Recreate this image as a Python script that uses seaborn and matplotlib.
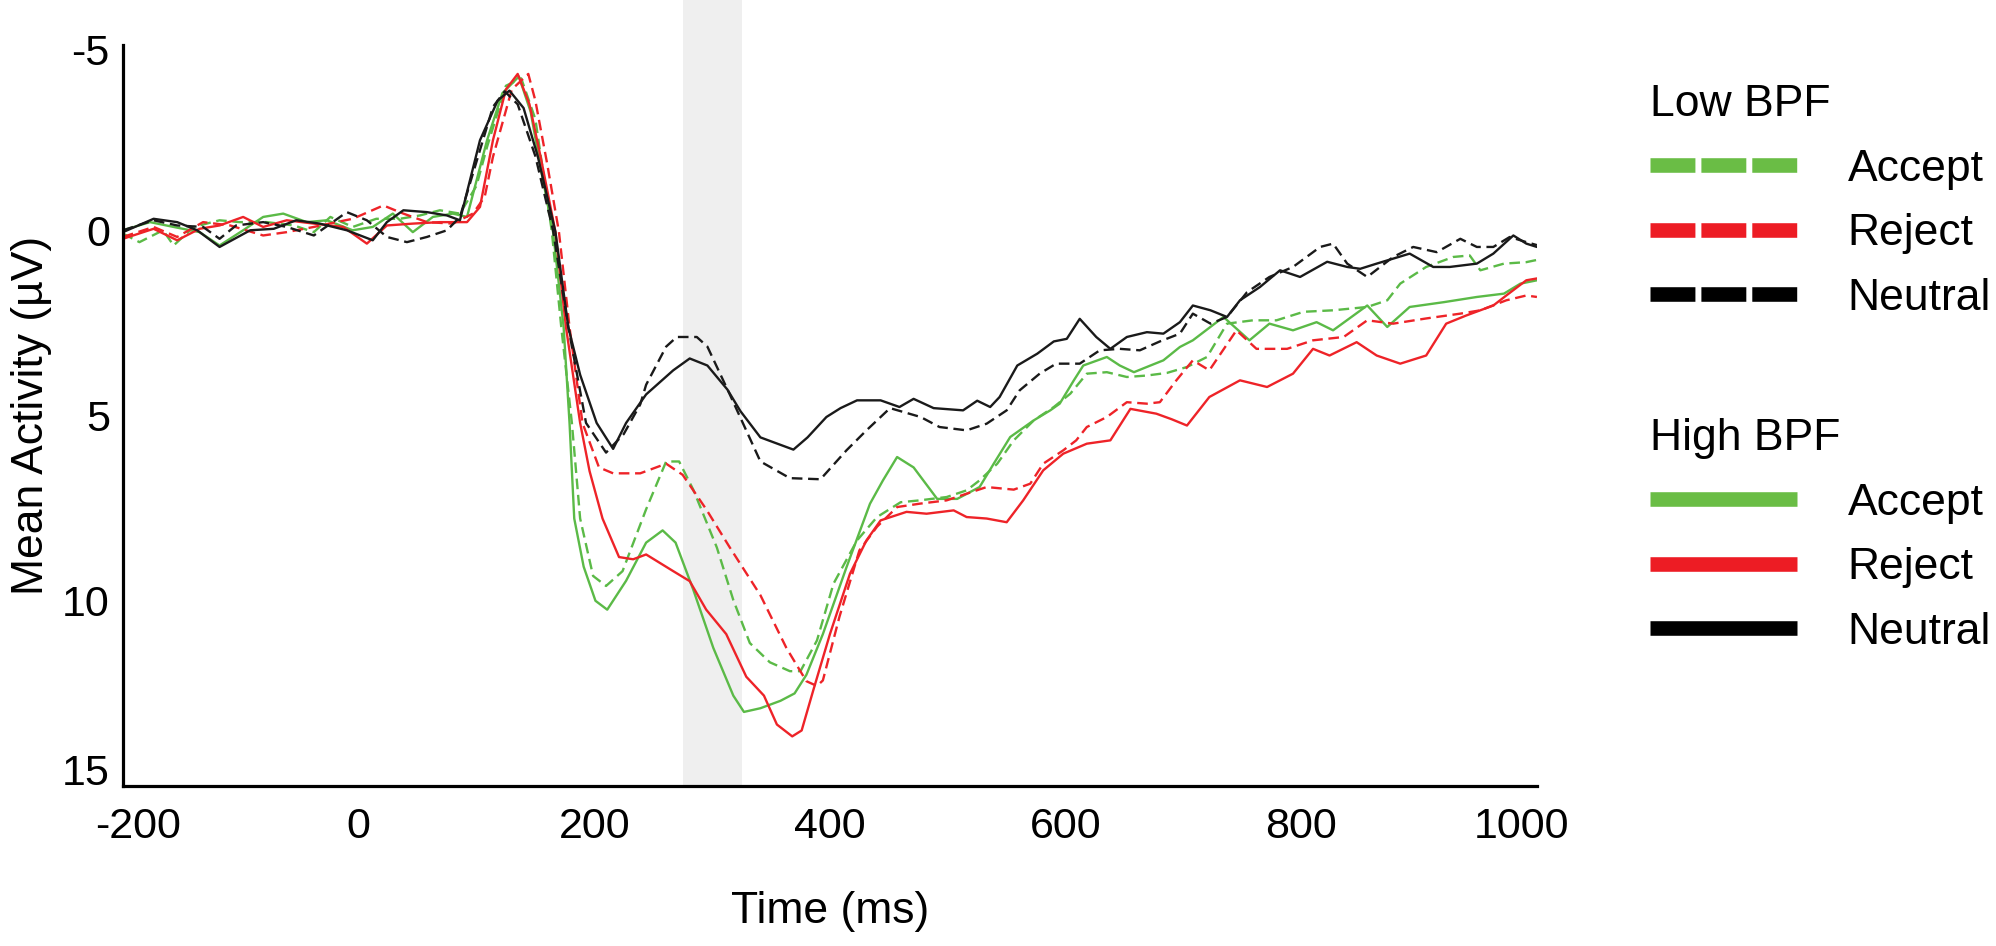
import numpy as np
import pandas as pd
import seaborn as sns
from matplotlib import pyplot as plt
from matplotlib.lines import Line2D
from matplotlib.transforms import ScaledTranslation

# %% Data (time in ms, amplitude in uV)

HighAccept = [(-200, 0.0), (-177, -0.22), (-157, -0.09), (-135, 0.05), (-118, 0.41), (-98, 0.0),
              (-81, -0.36), (-64, -0.45), (-44, -0.22), (-27, -0.27), (-5, 0.0), (12, -0.09),
              (29, -0.45), (46, 0.05), (63, -0.36), (80, -0.45), (92, -0.36), (109, -2.43),
              (122, -3.7), (136, -4.15), (146, -3.2), (155, -1.6), (165, 0.04), (174, 2.62),
              (179, 5.2), (183, 7.78), (191, 9.08), (201, 10.0), (211, 10.24), (227, 9.46),
              (244, 8.43), (258, 8.1), (269, 8.43), (284, 9.7), (301, 11.27), (318, 12.56),
              (327, 13.0), (341, 12.9), (358, 12.7), (370, 12.5), (380, 12.0), (394, 10.9),
              (414, 9.1), (434, 7.38), (445, 6.75), (457, 6.12), (471, 6.4), (491, 7.25),
              (508, 7.25), (527, 6.93), (539, 6.3), (553, 5.58), (573, 5.13), (587, 4.86),
              (595, 4.68), (607, 4.05), (615, 3.65), (635, 3.42), (646, 3.65), (658, 3.83),
              (672, 3.65), (683, 3.51), (697, 3.15), (708, 2.97), (734, 2.34), (756, 2.97),
              (773, 2.52), (793, 2.7), (813, 2.48), (827, 2.7), (856, 2.03), (873, 2.61),
              (892, 2.07), (921, 1.94), (949, 1.8), (972, 1.71), (986, 1.44), (1000, 1.35)]

HighReject = [(-200, 0.23), (-174, -0.04), (-154, 0.27), (-135, -0.04), (-118, -0.13), (-98, -0.36),
              (-81, -0.09), (-61, -0.27), (-38, -0.18), (-13, -0.09), (7, 0.36), (24, -0.13),
              (46, -0.18), (69, -0.22), (92, -0.22), (103, -0.63), (114, -2.43), (125, -3.8),
              (135, -4.22), (145, -3.4), (155, -1.9), (167, 0.04), (176, 2.62), (188, 5.2),
              (196, 6.5), (207, 7.78), (221, 8.82), (233, 8.88), (244, 8.75), (267, 9.2),
              (281, 9.47), (295, 10.24), (312, 10.9), (329, 12.05), (344, 12.56), (355, 13.34),
              (368, 13.66), (376, 13.5), (386, 12.4), (400, 10.9), (417, 9.27), (431, 8.37),
              (443, 7.83), (465, 7.6), (482, 7.65), (505, 7.56), (516, 7.74), (533, 7.78),
              (550, 7.88), (564, 7.29), (581, 6.48), (598, 6.03), (618, 5.76), (638, 5.67),
              (655, 4.82), (677, 4.95), (690, 5.1), (703, 5.27), (722, 4.5), (748, 4.05),
              (771, 4.23), (793, 3.87), (810, 3.2), (824, 3.38), (847, 3.02), (864, 3.38),
              (884, 3.6), (906, 3.38), (923, 2.52), (940, 2.3), (963, 2.03), (974, 1.76),
              (991, 1.35), (1000, 1.3)]

HighNeutral = [(-200, 0.05), (-174, -0.31), (-154, -0.22), (-137, 0.0), (-118, 0.45), (-92, 0.0),
               (-72, -0.04), (-53, -0.27), (-33, -0.18), (-10, 0.0), (12, 0.27), (24, -0.22),
               (38, -0.54), (58, -0.49), (75, -0.4), (86, -0.27), (103, -2.43), (118, -3.5),
               (128, -3.77), (140, -3.3), (152, -2.0), (167, 0.04), (178, 2.62), (188, 3.9),
               (202, 5.2), (216, 5.9), (227, 5.2), (244, 4.43), (267, 3.78), (281, 3.46),
               (296, 3.65), (313, 4.3), (324, 4.88), (341, 5.59), (352, 5.72), (369, 5.92),
               (381, 5.59), (397, 5.04), (409, 4.8), (423, 4.59), (443, 4.59), (459, 4.77),
               (471, 4.55), (488, 4.8), (513, 4.86), (525, 4.6), (536, 4.77), (544, 4.5),
               (559, 3.65), (576, 3.33), (590, 3.0), (601, 2.93), (612, 2.39), (626, 2.88),
               (638, 3.2), (652, 2.88), (669, 2.75), (683, 2.79), (697, 2.48), (708, 2.03),
               (723, 2.16), (737, 2.34), (748, 1.89), (765, 1.53), (782, 1.08), (799, 1.26),
               (822, 0.85), (839, 0.99), (850, 1.04), (864, 0.9), (892, 0.63), (912, 0.99),
               (926, 0.99), (949, 0.9), (963, 0.63), (980, 0.14), (991, 0.36), (1000, 0.45)]

LowAccept = [(-200, 0.09), (-186, 0.32), (-166, 0.0), (-157, 0.41), (-140, -0.09), (-118, -0.27),
             (-101, -0.22), (-78, -0.22), (-55, -0.13), (-38, 0.05), (-24, -0.36), (-5, -0.09),
             (15, -0.31), (35, -0.31), (52, -0.4), (69, -0.54), (86, -0.45), (100, -1.2),
             (109, -2.25), (125, -3.9), (138, -4.1), (150, -3.0), (164, 0.04), (172, 2.62),
             (181, 5.2), (188, 7.78), (199, 9.33), (210, 9.6), (224, 9.2), (244, 7.53),
             (261, 6.24), (272, 6.24), (284, 7.0), (304, 8.56), (318, 9.98), (332, 11.14),
             (349, 11.66), (366, 11.9), (375, 11.9), (389, 11.07), (403, 9.54), (423, 8.37),
             (440, 7.74), (460, 7.34), (476, 7.29), (499, 7.2), (516, 7.02), (527, 6.75),
             (542, 6.3), (556, 5.67), (573, 5.13), (590, 4.77), (604, 4.41), (618, 3.87),
             (635, 3.83), (652, 3.96), (669, 3.92), (686, 3.85), (703, 3.69), (720, 3.42),
             (737, 2.52), (759, 2.43), (779, 2.43), (802, 2.2), (827, 2.16), (856, 2.07),
             (873, 1.89), (884, 1.44), (906, 0.99), (929, 0.72), (943, 0.68), (952, 1.08),
             (972, 0.9), (991, 0.86), (1000, 0.8)]

LowReject = [(-200, 0.18), (-174, -0.09), (-154, 0.18), (-132, -0.22), (-109, -0.13), (-81, 0.14),
             (-61, 0.05), (-38, -0.09), (-19, -0.22), (-5, -0.31), (21, -0.67), (38, -0.45),
             (58, -0.22), (80, -0.18), (97, -0.45), (107, -0.9), (114, -1.98), (130, -3.8),
             (144, -4.22), (150, -3.5), (160, -1.8), (170, 0.04), (179, 2.62), (190, 5.2),
             (204, 6.4), (216, 6.56), (239, 6.56), (261, 6.3), (275, 6.6), (295, 7.53),
             (315, 8.56), (341, 9.85), (363, 11.27), (380, 12.17), (389, 12.3), (394, 12.15),
             (408, 10.44), (425, 8.64), (440, 8.0), (457, 7.47), (476, 7.38), (499, 7.29),
             (516, 7.11), (533, 6.93), (556, 7.0), (570, 6.84), (581, 6.3), (598, 5.94),
             (609, 5.67), (618, 5.31), (635, 5.04), (652, 4.64), (669, 4.68), (680, 4.64),
             (694, 4.05), (708, 3.51), (722, 3.78), (745, 2.7), (762, 3.2), (788, 3.2),
             (810, 2.97), (836, 2.88), (856, 2.43), (878, 2.52), (906, 2.38), (935, 2.25),
             (952, 2.16), (974, 1.89), (991, 1.76), (1000, 1.8)]

LowNeutral = [(-200, 0.0), (-174, -0.27), (-154, -0.13), (-132, -0.09), (-118, 0.23), (-104, -0.13),
              (-81, -0.22), (-61, -0.09), (-38, 0.14), (-10, -0.49), (7, -0.27), (24, 0.18),
              (41, 0.32), (58, 0.18), (75, 0.0), (86, -0.36), (97, -1.53), (114, -3.33),
              (124, -3.75), (135, -3.4), (150, -2.0), (165, 0.0), (178, 2.62), (193, 5.2),
              (210, 6.0), (225, 5.5), (239, 4.7), (244, 4.17), (261, 3.14), (270, 2.88),
              (287, 2.88), (296, 3.14), (315, 4.43), (341, 6.24), (366, 6.69), (392, 6.72),
              (414, 5.94), (431, 5.4), (451, 4.8), (477, 5.04), (493, 5.31), (516, 5.4),
              (533, 5.22), (550, 4.86), (561, 4.32), (578, 3.87), (592, 3.6), (612, 3.6),
              (629, 3.24), (646, 3.2), (663, 3.24), (680, 3.0), (697, 2.79), (708, 2.25),
              (723, 2.52), (737, 2.34), (754, 1.67), (773, 1.26), (793, 0.99), (816, 0.45),
              (827, 0.36), (839, 0.9), (856, 1.26), (878, 0.72), (895, 0.45), (915, 0.59),
              (935, 0.23), (949, 0.45), (963, 0.45), (977, 0.18), (991, 0.32), (1000, 0.4)]

Window = (275, 325)  # shaded analysis window (ms)
Responses = ['Accept', 'Reject', 'Neutral']
XTicks = [-200, 0, 200, 400, 600, 800, 1000]
YTicks = [-5, 0, 5, 10, 15]

# %% Build long table

Series = {('Low BPF', 'Accept'): LowAccept, ('Low BPF', 'Reject'): LowReject,
          ('Low BPF', 'Neutral'): LowNeutral, ('High BPF', 'Accept'): HighAccept,
          ('High BPF', 'Reject'): HighReject, ('High BPF', 'Neutral'): HighNeutral}
dfs = []
for (bpf, resp), pts in Series.items():
    d = pd.DataFrame(pts, columns=['Time', 'Amp'])
    d['BPF'] = bpf
    d['Response'] = resp
    dfs.append(d)
dfData = pd.concat(dfs, ignore_index=True)

# %% Plot

sns.set_style('white')
plt.rcParams['font.family'] = ['Liberation Sans', 'DejaVu Sans']
plt.rcParams['axes.unicode_minus'] = False
plt.rcParams['text.color'] = 'black'
plt.rcParams['axes.labelcolor'] = 'black'
plt.rcParams['xtick.labelcolor'] = 'black'
plt.rcParams['ytick.labelcolor'] = 'black'

LineColors = {'Accept': '#5BBA47', 'Reject': '#EE2328', 'Neutral': '#1A1A1A'}
LegColors = {'Accept': '#6ABD45', 'Reject': '#ED1C24', 'Neutral': '#000000'}

fig = plt.figure(figsize=(19.96, 9.46), dpi=100)
ax = fig.add_axes([0.0616, 0.1691, 0.7084, 0.7833])

ax.axvspan(*Window, ymin=0, ymax=1.062, color='#EFEFEF', lw=0, zorder=0, clip_on=False)

sns.lineplot(data=dfData, x='Time', y='Amp', hue='Response', style='BPF',
             palette=LineColors, dashes={'Low BPF': (4.5, 2.4), 'High BPF': ''},
             estimator=None, sort=False, lw=1.7, legend=False, ax=ax)

ax.set_xlim(-200, 1000)
ax.set_ylim(15, -5)
ax.set_xticks(XTicks)
ax.set_yticks(YTicks)
sns.despine(ax=ax)
for sp in ('left', 'bottom'):
    ax.spines[sp].set_linewidth(2.3)
    ax.spines[sp].set_color('black')
ax.tick_params(direction='in', length=9, width=1.5, color='#C8C8C8', labelsize=31)
ax.tick_params(axis='x', pad=15)
ax.tick_params(axis='y', pad=9.5)

ax.set_xlabel('Time (ms)', fontsize=32)
ax.set_ylabel('Mean Activity (µV)', fontsize=32)
ax.xaxis.set_label_coords(0.5, -0.142)
ax.yaxis.set_label_coords(-0.05, 0.5)

# end tick labels sit pulled inside the axis range, as in the original
fig.canvas.draw()
xt = ax.xaxis.get_major_ticks()
yt = ax.yaxis.get_major_ticks()
for tk, dx, dy in ((xt[0], 11, 0), (xt[-1], -11, 0), (yt[0], 0, -3), (yt[-1], 0, 12)):
    lab = tk.label1
    lab.set_transform(lab.get_transform() + ScaledTranslation(dx / 72, dy / 72, fig.dpi_scale_trans))

# %% Legends

for title, dash, ytop in (('Low BPF', (0, (3.08, 0.41)), 0.911), ('High BPF', '-', 0.558)):
    handles = [Line2D([], [], color=LegColors[r], lw=10.5, linestyle=dash,
                      solid_capstyle='butt', dash_capstyle='butt') for r in Responses]
    fig.legend(handles, Responses, title=title, loc='upper left',
               bbox_to_anchor=(0.8267, ytop), frameon=False, fontsize=32,
               title_fontsize=32, handlelength=3.3, handletextpad=1.15,
               labelspacing=0.53, borderpad=0, borderaxespad=0, alignment='left')

fig.savefig('out.png', dpi=100)
